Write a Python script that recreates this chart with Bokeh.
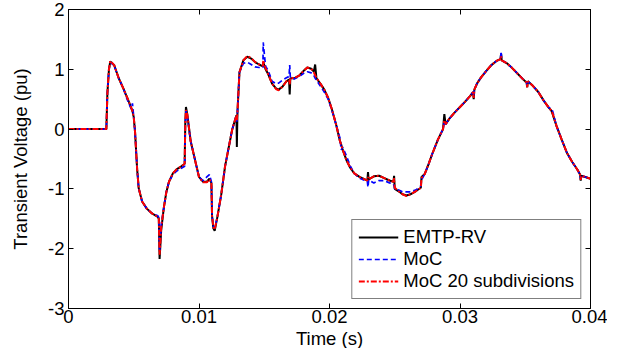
from bokeh.plotting import figure
from bokeh.models import ColumnDataSource, FixedTicker, LinearAxis, Legend, LegendItem, Title
from bokeh.embed import file_html
from bokeh.resources import INLINE

# Time (s)
time_s = [0.0000, 0.0029, 0.00298, 0.0031, 0.0032, 0.0035, 0.00385, 0.0042, 0.00449, 0.0048,
          0.0049, 0.0050, 0.0051, 0.00526, 0.00538, 0.00564, 0.0060, 0.0064, 0.00685, 0.00692,
          0.00698, 0.00704, 0.0071, 0.0073, 0.0075, 0.0077, 0.0080, 0.0083, 0.0086, 0.0089,
          0.00895, 0.0090, 0.0091, 0.00936, 0.00974, 0.0100, 0.0103, 0.0106, 0.0108, 0.01095,
          0.0110, 0.0111, 0.0112, 0.0114, 0.0117, 0.0120, 0.01254, 0.0128, 0.01287, 0.0129,
          0.01295, 0.0131, 0.0134, 0.0137, 0.0140, 0.0143, 0.0146, 0.0149, 0.01492, 0.0151,
          0.0153, 0.0156, 0.0159, 0.0161, 0.0164, 0.0167, 0.0169, 0.01695, 0.0170, 0.0173,
          0.0177, 0.0180, 0.0183, 0.0186, 0.0188, 0.0189, 0.0190, 0.0193, 0.0196, 0.0199,
          0.0202, 0.0205, 0.0208, 0.0209, 0.0210, 0.0213, 0.0216, 0.0219, 0.0223, 0.0227,
          0.0229, 0.02295, 0.0230, 0.0234, 0.0238, 0.0242, 0.0246, 0.0249, 0.02495, 0.0250,
          0.0253, 0.0256, 0.0259, 0.0262, 0.0266, 0.0270, 0.02705, 0.0273, 0.0276, 0.0279,
          0.0283, 0.0287, 0.0288, 0.0289, 0.0292, 0.0296, 0.0300, 0.0304, 0.0308, 0.0310,
          0.03105, 0.0311, 0.0313, 0.0316, 0.0320, 0.0324, 0.0328, 0.0331, 0.03315, 0.0332,
          0.0336, 0.0340, 0.0344, 0.0348, 0.0351, 0.03515, 0.0352, 0.0356, 0.0360, 0.0364,
          0.0368, 0.0370, 0.0371, 0.0374, 0.0378, 0.0382, 0.0386, 0.0390, 0.0392, 0.03925,
          0.0393, 0.0396, 0.0400]

# EMTP-RV (pu)
emtp_rv = [0.0, 0.0, 0.6, 1.0, 1.13, 1.07, 0.85, 0.68, 0.53, 0.36,
           0.3, 0.2, -0.05, -0.67, -0.99, -1.21, -1.33, -1.41, -1.47, -1.5,
           -2.17, -1.95, -1.7, -1.32, -1.05, -0.88, -0.74, -0.67, -0.63, -0.58,
           0.1, 0.37, 0.25, -0.2, -0.56, -0.8, -0.88, -0.88, -0.83, -0.9,
           -1.45, -1.66, -1.7, -1.48, -1.1, -0.62, -0.01, 0.18, 0.23, -0.3,
           0.3, 0.95, 1.15, 1.21, 1.18, 1.12, 1.08, 1.05, 1.12, 1.0,
           0.92, 0.76, 0.68, 0.66, 0.71, 0.8, 0.83, 0.58, 0.85, 0.85,
           0.9, 0.97, 1.03, 1.01, 0.96, 1.08, 0.85, 0.76, 0.66, 0.52,
           0.32, 0.08, -0.2, -0.26, -0.34, -0.52, -0.65, -0.74, -0.8, -0.84,
           -0.86, -0.72, -0.84, -0.79, -0.78, -0.82, -0.86, -0.88, -0.78, -1.0,
           -1.04, -1.09, -1.11, -1.09, -1.04, -0.98, -0.8, -0.75, -0.58, -0.4,
           -0.18, 0.0, 0.25, 0.08, 0.18, 0.28, 0.37, 0.46, 0.56, 0.62,
           0.5, 0.66, 0.76, 0.86, 0.97, 1.07, 1.14, 1.17, 1.26, 1.15,
           1.1, 1.02, 0.93, 0.84, 0.78, 0.7, 0.8, 0.72, 0.62, 0.48,
           0.36, 0.31, 0.25, 0.05, -0.18, -0.4, -0.55, -0.68, -0.76, -0.86,
           -0.78, -0.8, -0.83]

# MoC (pu)
moc = [0.0, 0.0, 0.6, 1.0, 1.12, 1.06, 0.85, 0.68, 0.5, 0.34,
       0.43, 0.2, -0.05, -0.67, -0.99, -1.21, -1.33, -1.41, -1.45, -1.48,
       -2.05, -1.85, -1.6, -1.32, -1.05, -0.88, -0.76, -0.7, -0.66, -0.62,
       0.05, 0.3, 0.22, -0.2, -0.56, -0.8, -0.86, -0.8, -0.76, -0.88,
       -1.45, -1.62, -1.66, -1.48, -1.1, -0.62, -0.01, 0.18, 0.23, 0.1,
       0.3, 0.95, 1.1, 1.12, 1.08, 1.04, 1.03, 1.03, 1.45, 1.05,
       0.98, 0.8, 0.76, 0.77, 0.82, 0.86, 0.88, 1.07, 0.86, 0.84,
       0.88, 0.93, 0.96, 0.94, 0.9, 0.85, 0.82, 0.72, 0.62, 0.5,
       0.3, 0.08, -0.15, -0.35, -0.3, -0.45, -0.62, -0.74, -0.82, -0.86,
       -0.88, -0.97, -0.85, -0.9, -0.86, -0.86, -0.9, -0.92, -0.95, -1.0,
       -1.02, -1.05, -1.05, -1.05, -1.02, -0.95, -0.85, -0.75, -0.58, -0.4,
       -0.18, 0.0, 0.12, 0.08, 0.18, 0.28, 0.37, 0.46, 0.56, 0.62,
       0.55, 0.66, 0.76, 0.86, 0.97, 1.07, 1.14, 1.17, 1.3, 1.15,
       1.1, 1.02, 0.93, 0.84, 0.78, 0.72, 0.8, 0.72, 0.62, 0.48,
       0.36, 0.34, 0.3, 0.05, -0.18, -0.4, -0.55, -0.68, -0.76, -0.84,
       -0.78, -0.8, -0.83]

# MoC 20 subdivisions (pu)
moc_20 = [0.0, 0.0, 0.6, 1.0, 1.14, 1.07, 0.85, 0.68, 0.53, 0.36,
          0.3, 0.2, -0.05, -0.67, -0.99, -1.21, -1.33, -1.41, -1.47, -1.5,
          -2.1, -1.9, -1.65, -1.32, -1.05, -0.88, -0.74, -0.67, -0.63, -0.58,
          0.1, 0.32, 0.25, -0.2, -0.56, -0.8, -0.89, -0.89, -0.84, -0.9,
          -1.45, -1.64, -1.68, -1.48, -1.1, -0.62, -0.01, 0.18, 0.23, 0.15,
          0.3, 0.95, 1.15, 1.22, 1.19, 1.12, 1.08, 1.06, 1.15, 1.02,
          0.92, 0.76, 0.67, 0.65, 0.71, 0.8, 0.82, 0.75, 0.86, 0.85,
          0.9, 0.97, 1.03, 1.01, 0.95, 0.9, 0.86, 0.76, 0.66, 0.52,
          0.32, 0.08, -0.2, -0.26, -0.34, -0.52, -0.65, -0.74, -0.8, -0.84,
          -0.86, -0.8, -0.84, -0.79, -0.78, -0.82, -0.86, -0.88, -0.82, -0.98,
          -1.04, -1.09, -1.12, -1.09, -1.04, -0.98, -0.82, -0.75, -0.58, -0.4,
          -0.18, 0.0, 0.15, 0.08, 0.18, 0.28, 0.37, 0.46, 0.56, 0.62,
          0.52, 0.66, 0.76, 0.86, 0.97, 1.07, 1.14, 1.17, 1.22, 1.15,
          1.1, 1.02, 0.93, 0.84, 0.78, 0.7, 0.8, 0.72, 0.62, 0.48,
          0.36, 0.31, 0.26, 0.05, -0.18, -0.4, -0.55, -0.68, -0.76, -0.85,
          -0.78, -0.8, -0.83]

x_ticks = [0, 0.01, 0.02, 0.03, 0.04]
x_tick_labels = ["0", "0.01", "0.02", "0.03", "0.04"]
y_ticks = [-3, -2, -1, 0, 1, 2]
y_tick_labels = ["-3", "-2", "-1", "0", "1", "2"]
series_names = ["EMTP-RV", "MoC", "MoC 20 subdivisions"]
x_title = "Time (s)"
y_title = "Transient Voltage (pu)"

FONT = "Liberation Sans"
FS = "18.5px"

source = ColumnDataSource(dict(t=time_s, emtp=emtp_rv, moc=moc, moc20=moc_20))

p = figure(width=607, height=348, x_range=(0, 0.04), y_range=(-3, 2),
           output_backend="svg", toolbar_location=None,
           min_border_left=68, min_border_right=17, min_border_top=9, min_border_bottom=0)
p.grid.visible = False
p.outline_line_color = "black"
p.outline_line_width = 1
p.background_fill_color = "white"

def style_axis(ax, labels_on=True):
    ax.axis_line_color = "black"
    ax.major_tick_line_color = "black"
    ax.major_tick_in = 5
    ax.major_tick_out = 0
    ax.minor_tick_line_color = None
    ax.major_label_text_font = FONT
    ax.major_label_text_font_size = FS
    ax.major_label_text_color = "black" if labels_on else None
    ax.axis_label_text_font = FONT
    ax.axis_label_text_font_size = FS
    ax.axis_label_text_font_style = "normal"
    ax.axis_label_text_color = "black"

xax = p.xaxis[0]
xax.ticker = FixedTicker(ticks=x_ticks)
xax.major_label_overrides = {t: l for t, l in zip(x_ticks, x_tick_labels)}
style_axis(xax)
xax.major_label_standoff = 1

yax = p.yaxis[0]
yax.ticker = FixedTicker(ticks=y_ticks)
yax.major_label_overrides = {t: l for t, l in zip(y_ticks, y_tick_labels)}
style_axis(yax)
yax.axis_label = y_title
yax.major_label_standoff = 4
yax.axis_label_standoff = 14

top = LinearAxis(ticker=FixedTicker(ticks=x_ticks), major_label_standoff=0,
                 major_label_overrides={t: "" for t in x_ticks})
style_axis(top, labels_on=False)
p.add_layout(top, "above")
right = LinearAxis(ticker=FixedTicker(ticks=y_ticks), major_label_standoff=0,
                   major_label_overrides={t: "" for t in y_ticks})
style_axis(right, labels_on=False)
p.add_layout(right, "right")

# x-axis title as a title in the panel below the axis
xtitle = Title(text=x_title, align="center", text_font=FONT, text_font_size=FS,
               text_font_style="normal", text_color="black", standoff=0, offset=0,
               text_line_height=0.7)
p.add_layout(xtitle, "below")

r1 = p.line("t", "emtp", source=source, line_color="black", line_width=2)
r2 = p.line("t", "moc", source=source, line_color="#0000ff", line_width=1.7, line_dash="5 3")
r3 = p.line("t", "moc20", source=source, line_color="#ff0000", line_width=2, line_dash="6 2 2 2")

legend = Legend(items=[LegendItem(label=series_names[0], renderers=[r1]),
                       LegendItem(label=series_names[1], renderers=[r2]),
                       LegendItem(label=series_names[2], renderers=[r3])],
                location="bottom_right")
legend.margin = 9
legend.padding = 6
legend.spacing = 0
legend.label_height = 22
legend.glyph_height = 22
legend.glyph_width = 40
legend.label_standoff = 5
legend.label_text_font = FONT
legend.label_text_font_size = FS
legend.label_text_color = "black"
legend.border_line_color = "black"
legend.border_line_width = 1
legend.background_fill_color = "white"
legend.background_fill_alpha = 1
p.add_layout(legend, "center")

open("out.html", "w").write(file_html(p, INLINE))
